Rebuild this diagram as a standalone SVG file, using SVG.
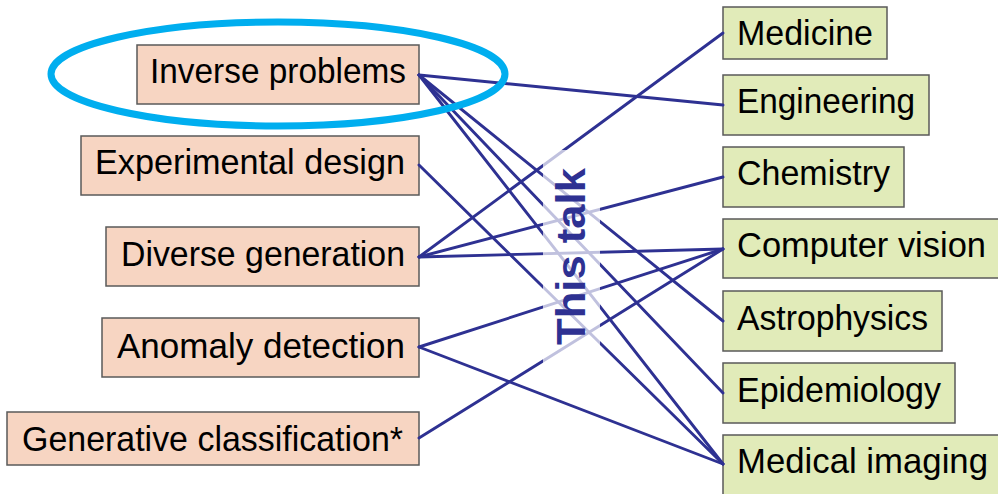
<svg xmlns="http://www.w3.org/2000/svg" width="998" height="494" viewBox="0 0 998 494">
  <style>
    .src rect { fill: #f7d5c2; stroke: #5a5a5a; stroke-width: 1.5; }
    .dst rect { fill: #e1ebb9; stroke: #5a5a5a; stroke-width: 1.5; }
    .lbl { font-family: "Liberation Sans", Arial, sans-serif; font-size: 35px; fill: #000; }
    #connectors line { stroke: #2e3192; stroke-width: 2.9; stroke-linecap: round; }
    .talk { font-family: "Liberation Sans", Arial, sans-serif; font-weight: bold; font-size: 41px; fill: #2e3192; }
  </style>
  <rect width="998" height="494" fill="#fff"/>

  <!-- research topics -->
  <g id="inverse-problems" class="src">
    <rect x="137" y="45" width="282" height="59"/>
    <text class="lbl" x="150" y="83" textLength="256" lengthAdjust="spacingAndGlyphs">Inverse problems</text>
  </g>
  <g id="experimental-design" class="src">
    <rect x="81" y="136" width="338" height="59"/>
    <text class="lbl" x="95" y="174" textLength="310" lengthAdjust="spacingAndGlyphs">Experimental design</text>
  </g>
  <g id="diverse-generation" class="src">
    <rect x="106" y="227" width="313" height="59"/>
    <text class="lbl" x="121" y="266" textLength="284" lengthAdjust="spacingAndGlyphs">Diverse generation</text>
  </g>
  <g id="anomaly-detection" class="src">
    <rect x="102" y="318" width="317" height="59"/>
    <text class="lbl" x="117" y="358" textLength="288" lengthAdjust="spacingAndGlyphs">Anomaly detection</text>
  </g>
  <g id="generative-classification" class="src">
    <rect x="7" y="412" width="412" height="53"/>
    <text class="lbl" x="22" y="451" font-size="34" textLength="381" lengthAdjust="spacingAndGlyphs">Generative classification*</text>
  </g>

  <!-- application areas -->
  <g id="medicine" class="dst">
    <rect x="723" y="7" width="164" height="52"/>
    <text class="lbl" x="737" y="45" textLength="136" lengthAdjust="spacingAndGlyphs">Medicine</text>
  </g>
  <g id="engineering" class="dst">
    <rect x="723" y="75" width="206" height="60"/>
    <text class="lbl" x="737" y="113" textLength="178" lengthAdjust="spacingAndGlyphs">Engineering</text>
  </g>
  <g id="chemistry" class="dst">
    <rect x="723" y="147" width="181" height="60"/>
    <text class="lbl" x="737" y="185" textLength="153" lengthAdjust="spacingAndGlyphs">Chemistry</text>
  </g>
  <g id="computer-vision" class="dst">
    <rect x="723" y="219" width="280" height="59"/>
    <text class="lbl" x="737" y="257" textLength="249" lengthAdjust="spacingAndGlyphs">Computer vision</text>
  </g>
  <g id="astrophysics" class="dst">
    <rect x="723" y="291" width="219" height="60"/>
    <text class="lbl" x="737" y="330" textLength="191" lengthAdjust="spacingAndGlyphs">Astrophysics</text>
  </g>
  <g id="epidemiology" class="dst">
    <rect x="723" y="363" width="232" height="60"/>
    <text class="lbl" x="737" y="402" textLength="204" lengthAdjust="spacingAndGlyphs">Epidemiology</text>
  </g>
  <g id="medical-imaging" class="dst">
    <rect x="723" y="435" width="280" height="64"/>
    <text class="lbl" x="737" y="473" textLength="251" lengthAdjust="spacingAndGlyphs">Medical imaging</text>
  </g>

  <!-- links between topics and areas -->
  <g id="connectors">
    <line x1="419" y1="75" x2="723" y2="105"/>
    <line x1="419" y1="75" x2="723" y2="321"/>
    <line x1="419" y1="75" x2="723" y2="393"/>
    <line x1="419" y1="75" x2="723" y2="464"/>
    <line x1="419" y1="165" x2="723" y2="464"/>
    <line x1="419" y1="257" x2="723" y2="33"/>
    <line x1="419" y1="257" x2="723" y2="177"/>
    <line x1="419" y1="257" x2="723" y2="249"/>
    <line x1="419" y1="347" x2="723" y2="249"/>
    <line x1="419" y1="347" x2="723" y2="464"/>
    <line x1="419" y1="438" x2="723" y2="249"/>
  </g>

  <!-- highlight around Inverse problems -->
  <ellipse id="highlight" cx="278" cy="74" rx="227" ry="52" fill="none" stroke="#00aeef" stroke-width="7"/>

  <!-- vertical label with a pale band behind it -->
  <g id="this-talk">
    <rect x="543" y="150" width="57" height="215" fill="#fff" fill-opacity="0.7"/>
    <text class="talk" transform="translate(585 345) rotate(-90)" x="0" y="0" textLength="177" lengthAdjust="spacingAndGlyphs">This talk</text>
  </g>
</svg>
